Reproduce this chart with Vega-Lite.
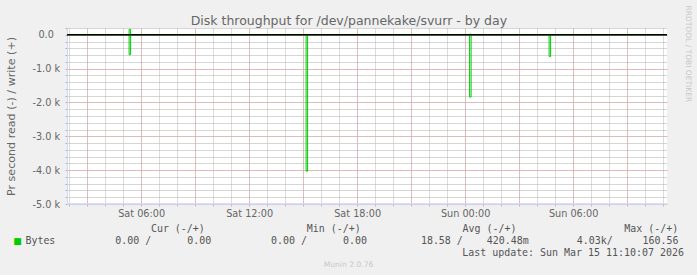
{
  "$schema": "https://vega.github.io/schema/vega-lite/v6.json",
  "width": 600,
  "height": 176,
  "autosize": {"type": "none"},
  "padding": {"left": 67, "top": 28, "right": 30, "bottom": 71},
  "background": "#f0f0f0",
  "view": {"fill": "#ffffff", "stroke": null},
  "config": {
    "font": "DejaVu Sans",
    "axis": {"labelFont": "DejaVu Sans", "titleFont": "DejaVu Sans", "titleFontWeight": "normal"}
  },
  "datasets": {
    "read": [
      {"t": "2026-03-14T01:53:00Z", "v": 0, "series": "Bytes"},
      {"t": "2026-03-14T05:20:00Z", "v": -590, "series": "Bytes"},
      {"t": "2026-03-14T05:25:00Z", "v": 0, "series": "Bytes"},
      {"t": "2026-03-14T15:10:00Z", "v": -4030, "series": "Bytes"},
      {"t": "2026-03-14T15:15:00Z", "v": 0, "series": "Bytes"},
      {"t": "2026-03-15T00:15:00Z", "v": -1840, "series": "Bytes"},
      {"t": "2026-03-15T00:20:00Z", "v": 0, "series": "Bytes"},
      {"t": "2026-03-15T04:40:00Z", "v": -640, "series": "Bytes"},
      {"t": "2026-03-15T04:45:00Z", "v": 0, "series": "Bytes"},
      {"t": "2026-03-15T11:13:00Z", "v": 0, "series": "Bytes"}
    ],
    "write": [
      {"t": "2026-03-14T01:53:00Z", "v": 0, "series": "Bytes"},
      {"t": "2026-03-14T05:20:00Z", "v": 160.56, "series": "Bytes"},
      {"t": "2026-03-14T05:25:00Z", "v": 0, "series": "Bytes"},
      {"t": "2026-03-15T00:15:00Z", "v": 20, "series": "Bytes"},
      {"t": "2026-03-15T00:20:00Z", "v": 0, "series": "Bytes"},
      {"t": "2026-03-15T11:13:00Z", "v": 0, "series": "Bytes"}
    ],
    "span": [
      {"t0": "2026-03-14T01:53:00Z", "t1": "2026-03-15T11:13:00Z"}
    ]
  },
  "resolve": {"axis": {"x": "independent", "y": "independent"}},
  "layer": [
    {
      "data": {"name": "read"},
      "mark": {"type": "line", "interpolate": "step-after", "strokeWidth": 1, "color": "#00cc00"},
      "encoding": {
        "x": {
          "field": "t",
          "type": "temporal",
          "scale": {
            "type": "utc",
            "nice": false,
            "domain": [
              {"year": 2026, "month": 3, "date": 14, "hours": 1, "minutes": 53, "utc": true},
              {"year": 2026, "month": 3, "date": 15, "hours": 11, "minutes": 13, "utc": true}
            ]
          },
          "axis": {
            "orient": "bottom",
            "values": [
              {"year": 2026, "month": 3, "date": 14, "hours": 2, "utc": true},
              {"year": 2026, "month": 3, "date": 14, "hours": 3, "utc": true},
              {"year": 2026, "month": 3, "date": 14, "hours": 4, "utc": true},
              {"year": 2026, "month": 3, "date": 14, "hours": 5, "utc": true},
              {"year": 2026, "month": 3, "date": 14, "hours": 6, "utc": true},
              {"year": 2026, "month": 3, "date": 14, "hours": 7, "utc": true},
              {"year": 2026, "month": 3, "date": 14, "hours": 8, "utc": true},
              {"year": 2026, "month": 3, "date": 14, "hours": 9, "utc": true},
              {"year": 2026, "month": 3, "date": 14, "hours": 10, "utc": true},
              {"year": 2026, "month": 3, "date": 14, "hours": 11, "utc": true},
              {"year": 2026, "month": 3, "date": 14, "hours": 12, "utc": true},
              {"year": 2026, "month": 3, "date": 14, "hours": 13, "utc": true},
              {"year": 2026, "month": 3, "date": 14, "hours": 14, "utc": true},
              {"year": 2026, "month": 3, "date": 14, "hours": 15, "utc": true},
              {"year": 2026, "month": 3, "date": 14, "hours": 16, "utc": true},
              {"year": 2026, "month": 3, "date": 14, "hours": 17, "utc": true},
              {"year": 2026, "month": 3, "date": 14, "hours": 18, "utc": true},
              {"year": 2026, "month": 3, "date": 14, "hours": 19, "utc": true},
              {"year": 2026, "month": 3, "date": 14, "hours": 20, "utc": true},
              {"year": 2026, "month": 3, "date": 14, "hours": 21, "utc": true},
              {"year": 2026, "month": 3, "date": 14, "hours": 22, "utc": true},
              {"year": 2026, "month": 3, "date": 14, "hours": 23, "utc": true},
              {"year": 2026, "month": 3, "date": 15, "hours": 0, "utc": true},
              {"year": 2026, "month": 3, "date": 15, "hours": 1, "utc": true},
              {"year": 2026, "month": 3, "date": 15, "hours": 2, "utc": true},
              {"year": 2026, "month": 3, "date": 15, "hours": 3, "utc": true},
              {"year": 2026, "month": 3, "date": 15, "hours": 4, "utc": true},
              {"year": 2026, "month": 3, "date": 15, "hours": 5, "utc": true},
              {"year": 2026, "month": 3, "date": 15, "hours": 6, "utc": true},
              {"year": 2026, "month": 3, "date": 15, "hours": 7, "utc": true},
              {"year": 2026, "month": 3, "date": 15, "hours": 8, "utc": true},
              {"year": 2026, "month": 3, "date": 15, "hours": 9, "utc": true},
              {"year": 2026, "month": 3, "date": 15, "hours": 10, "utc": true},
              {"year": 2026, "month": 3, "date": 15, "hours": 11, "utc": true}
            ],
            "labels": false,
            "domain": false,
            "tickSize": 2,
            "tickColor": "#b8b8b8",
            "grid": true,
            "gridColor": "#b8b8b8",
            "gridDash": [1, 1],
            "gridWidth": 1,
            "title": "Cur\u00a0(-/+)\u00a0\u00a0\u00a0\u00a0\u00a0\u00a0\u00a0\u00a0\u00a0\u00a0\u00a0\u00a0\u00a0\u00a0\u00a0\u00a0\u00a0Min\u00a0(-/+)\u00a0\u00a0\u00a0\u00a0\u00a0\u00a0\u00a0\u00a0\u00a0\u00a0\u00a0\u00a0\u00a0\u00a0\u00a0\u00a0\u00a0Avg\u00a0(-/+)\u00a0\u00a0\u00a0\u00a0\u00a0\u00a0\u00a0\u00a0\u00a0\u00a0\u00a0\u00a0\u00a0\u00a0\u00a0\u00a0\u00a0\u00a0Max\u00a0(-/+)",
            "titleX": 83.4,
            "titleY": 27,
            "titleAlign": "left",
            "titleAnchor": "start",
            "titleBaseline": "alphabetic",
            "titleFont": "DejaVu Sans Mono",
            "titleFontSize": 9.96,
            "titleColor": "#555555"
          }
        },
        "y": {
          "field": "v",
          "type": "quantitative",
          "scale": {"domain": [-5000, 200], "nice": false, "zero": false},
          "axis": {
            "orient": "left",
            "values": [-5000, -4800, -4600, -4400, -4200, -4000, -3800, -3600, -3400, -3200, -3000, -2800, -2600, -2400, -2200, -2000, -1800, -1600, -1400, -1200, -1000, -800, -600, -400, -200, 0, 200],
            "labelExpr": "datum.value % 1000 == 0 ? (datum.value == 0 ? '0.0\u00a0\u00a0\u200b' : '-' + format(abs(datum.value) / 1000, '.1f') + ' k') : ''",
            "labelOverlap": false,
            "labelFlush": false,
            "labelBound": false,
            "labelBaseline": "middle",
            "labelPadding": 5.5,
            "labelFontSize": 9.7,
            "labelColor": "#666666",
            "tickSize": 2,
            "tickColor": "#b0b0b0",
            "grid": true,
            "gridColor": "#acacac",
            "gridDash": [1, 1],
            "gridWidth": 1,
            "domainColor": "#CFD6F8",
            "title": "Pr second read (-) / write (+)",
            "titleFontSize": 11.1,
            "titleColor": "#666666",
            "titleAngle": -90,
            "titleX": -56,
            "titleY": 88,
            "titleAlign": "center",
            "titleBaseline": "middle"
          }
        }
      }
    },
    {
      "data": {"name": "write"},
      "mark": {"type": "line", "interpolate": "step-after", "strokeWidth": 1, "color": "#00cc00"},
      "encoding": {
        "x": {
          "field": "t",
          "type": "temporal",
          "axis": {
            "orient": "top",
            "values": [
              {"year": 2026, "month": 3, "date": 14, "hours": 3, "utc": true},
              {"year": 2026, "month": 3, "date": 14, "hours": 6, "utc": true},
              {"year": 2026, "month": 3, "date": 14, "hours": 9, "utc": true},
              {"year": 2026, "month": 3, "date": 14, "hours": 12, "utc": true},
              {"year": 2026, "month": 3, "date": 14, "hours": 15, "utc": true},
              {"year": 2026, "month": 3, "date": 14, "hours": 18, "utc": true},
              {"year": 2026, "month": 3, "date": 14, "hours": 21, "utc": true},
              {"year": 2026, "month": 3, "date": 15, "hours": 0, "utc": true},
              {"year": 2026, "month": 3, "date": 15, "hours": 3, "utc": true},
              {"year": 2026, "month": 3, "date": 15, "hours": 6, "utc": true},
              {"year": 2026, "month": 3, "date": 15, "hours": 9, "utc": true}
            ],
            "domain": false,
            "ticks": false,
            "labels": false,
            "grid": true,
            "gridColor": "#eba0a0",
            "gridDash": [1, 1],
            "gridWidth": 1,
            "title": "Disk throughput for /dev/pannekake/svurr - by day",
            "titleX": 281.4,
            "titleY": -4,
            "titleAlign": "center",
            "titleAnchor": "start",
            "titleBaseline": "alphabetic",
            "titleFontSize": 12.5,
            "titleColor": "#666666"
          }
        },
        "y": {
          "field": "v",
          "type": "quantitative",
          "axis": {
            "orient": "right",
            "values": [-5000, -4000, -3000, -2000, -1000, 0],
            "domain": false,
            "ticks": false,
            "labels": false,
            "grid": true,
            "gridColor": "#eba0a0",
            "gridDash": [1, 1],
            "gridWidth": 1,
            "title": "RRDTOOL / TOBI OETIKER",
            "titleAngle": 90,
            "titleX": 20.5,
            "titleY": -23,
            "titleAlign": "left",
            "titleAnchor": "start",
            "titleBaseline": "middle",
            "titleFontSize": 7.5,
            "titleColor": "#c8c8c8"
          }
        }
      }
    },
    {
      "data": {"name": "span"},
      "mark": {"type": "rule", "color": "#000000", "strokeWidth": 1.5},
      "encoding": {
        "x": {
          "field": "t0",
          "type": "temporal",
          "axis": {
            "orient": "bottom",
            "values": [
              {"year": 2026, "month": 3, "date": 14, "hours": 6, "utc": true},
              {"year": 2026, "month": 3, "date": 14, "hours": 12, "utc": true},
              {"year": 2026, "month": 3, "date": 14, "hours": 18, "utc": true},
              {"year": 2026, "month": 3, "date": 15, "hours": 0, "utc": true},
              {"year": 2026, "month": 3, "date": 15, "hours": 6, "utc": true}
            ],
            "labelExpr": "utcFormat(datum.value, '%a %H:%M')",
            "labelOverlap": false,
            "labelFlush": false,
            "labelBound": false,
            "labelAlign": "center",
            "labelBaseline": "alphabetic",
            "labelPadding": 12,
            "labelFontSize": 9.7,
            "labelColor": "#666666",
            "domain": false,
            "ticks": false,
            "grid": false,
            "title": "Munin 2.0.76",
            "titleX": 281,
            "titleY": 62,
            "titleAlign": "center",
            "titleAnchor": "start",
            "titleBaseline": "alphabetic",
            "titleFontSize": 7.6,
            "titleColor": "#c8c8c8"
          }
        },
        "x2": {"field": "t1"},
        "y": {
          "datum": 0,
          "type": "quantitative",
          "axis": {
            "orient": "left",
            "values": [0],
            "domain": false,
            "ticks": false,
            "labels": false,
            "grid": false,
            "title": "\u25a0",
            "titleAngle": 0,
            "titleX": -50,
            "titleY": 212,
            "titleAlign": "center",
            "titleAnchor": "start",
            "titleBaseline": "middle",
            "titleFont": "DejaVu Sans",
            "titleFontSize": 9,
            "titleColor": "#00cc00"
          }
        }
      }
    },
    {
      "data": {"name": "span"},
      "mark": {"type": "rule", "color": "#CFD6F8", "strokeWidth": 1.5},
      "encoding": {
        "x": {
          "field": "t0",
          "type": "temporal",
          "axis": {
            "orient": "bottom",
            "values": [],
            "domain": false,
            "ticks": false,
            "labels": false,
            "grid": false,
            "title": "Bytes\u00a0\u00a0\u00a0\u00a0\u00a0\u00a0\u00a0\u00a0\u00a0\u00a00.00\u00a0/\u00a0\u00a0\u00a0\u00a0\u00a0\u00a00.00\u00a0\u00a0\u00a0\u00a0\u00a0\u00a0\u00a0\u00a0\u00a0\u00a00.00\u00a0/\u00a0\u00a0\u00a0\u00a0\u00a0\u00a00.00\u00a0\u00a0\u00a0\u00a0\u00a0\u00a0\u00a0\u00a0\u00a018.58\u00a0/\u00a0\u00a0\u00a0\u00a0420.48m\u00a0\u00a0\u00a0\u00a0\u00a0\u00a0\u00a0\u00a04.03k/\u00a0\u00a0\u00a0\u00a0\u00a0160.56",
            "titleX": -42.1,
            "titleY": 39,
            "titleAlign": "left",
            "titleAnchor": "start",
            "titleBaseline": "alphabetic",
            "titleFont": "DejaVu Sans Mono",
            "titleFontSize": 9.96,
            "titleColor": "#555555"
          }
        },
        "x2": {"field": "t1"},
        "y": {
          "datum": -5000,
          "type": "quantitative",
          "axis": {
            "orient": "left",
            "values": [],
            "domain": false,
            "ticks": false,
            "labels": false,
            "grid": false,
            "title": "Last update: Sun Mar 15 11:10:07 2026",
            "titleAngle": 0,
            "titleX": 394.7,
            "titleY": 227,
            "titleAlign": "left",
            "titleAnchor": "start",
            "titleBaseline": "alphabetic",
            "titleFont": "DejaVu Sans Mono",
            "titleFontSize": 9.96,
            "titleColor": "#555555"
          }
        }
      }
    }
  ]
}
